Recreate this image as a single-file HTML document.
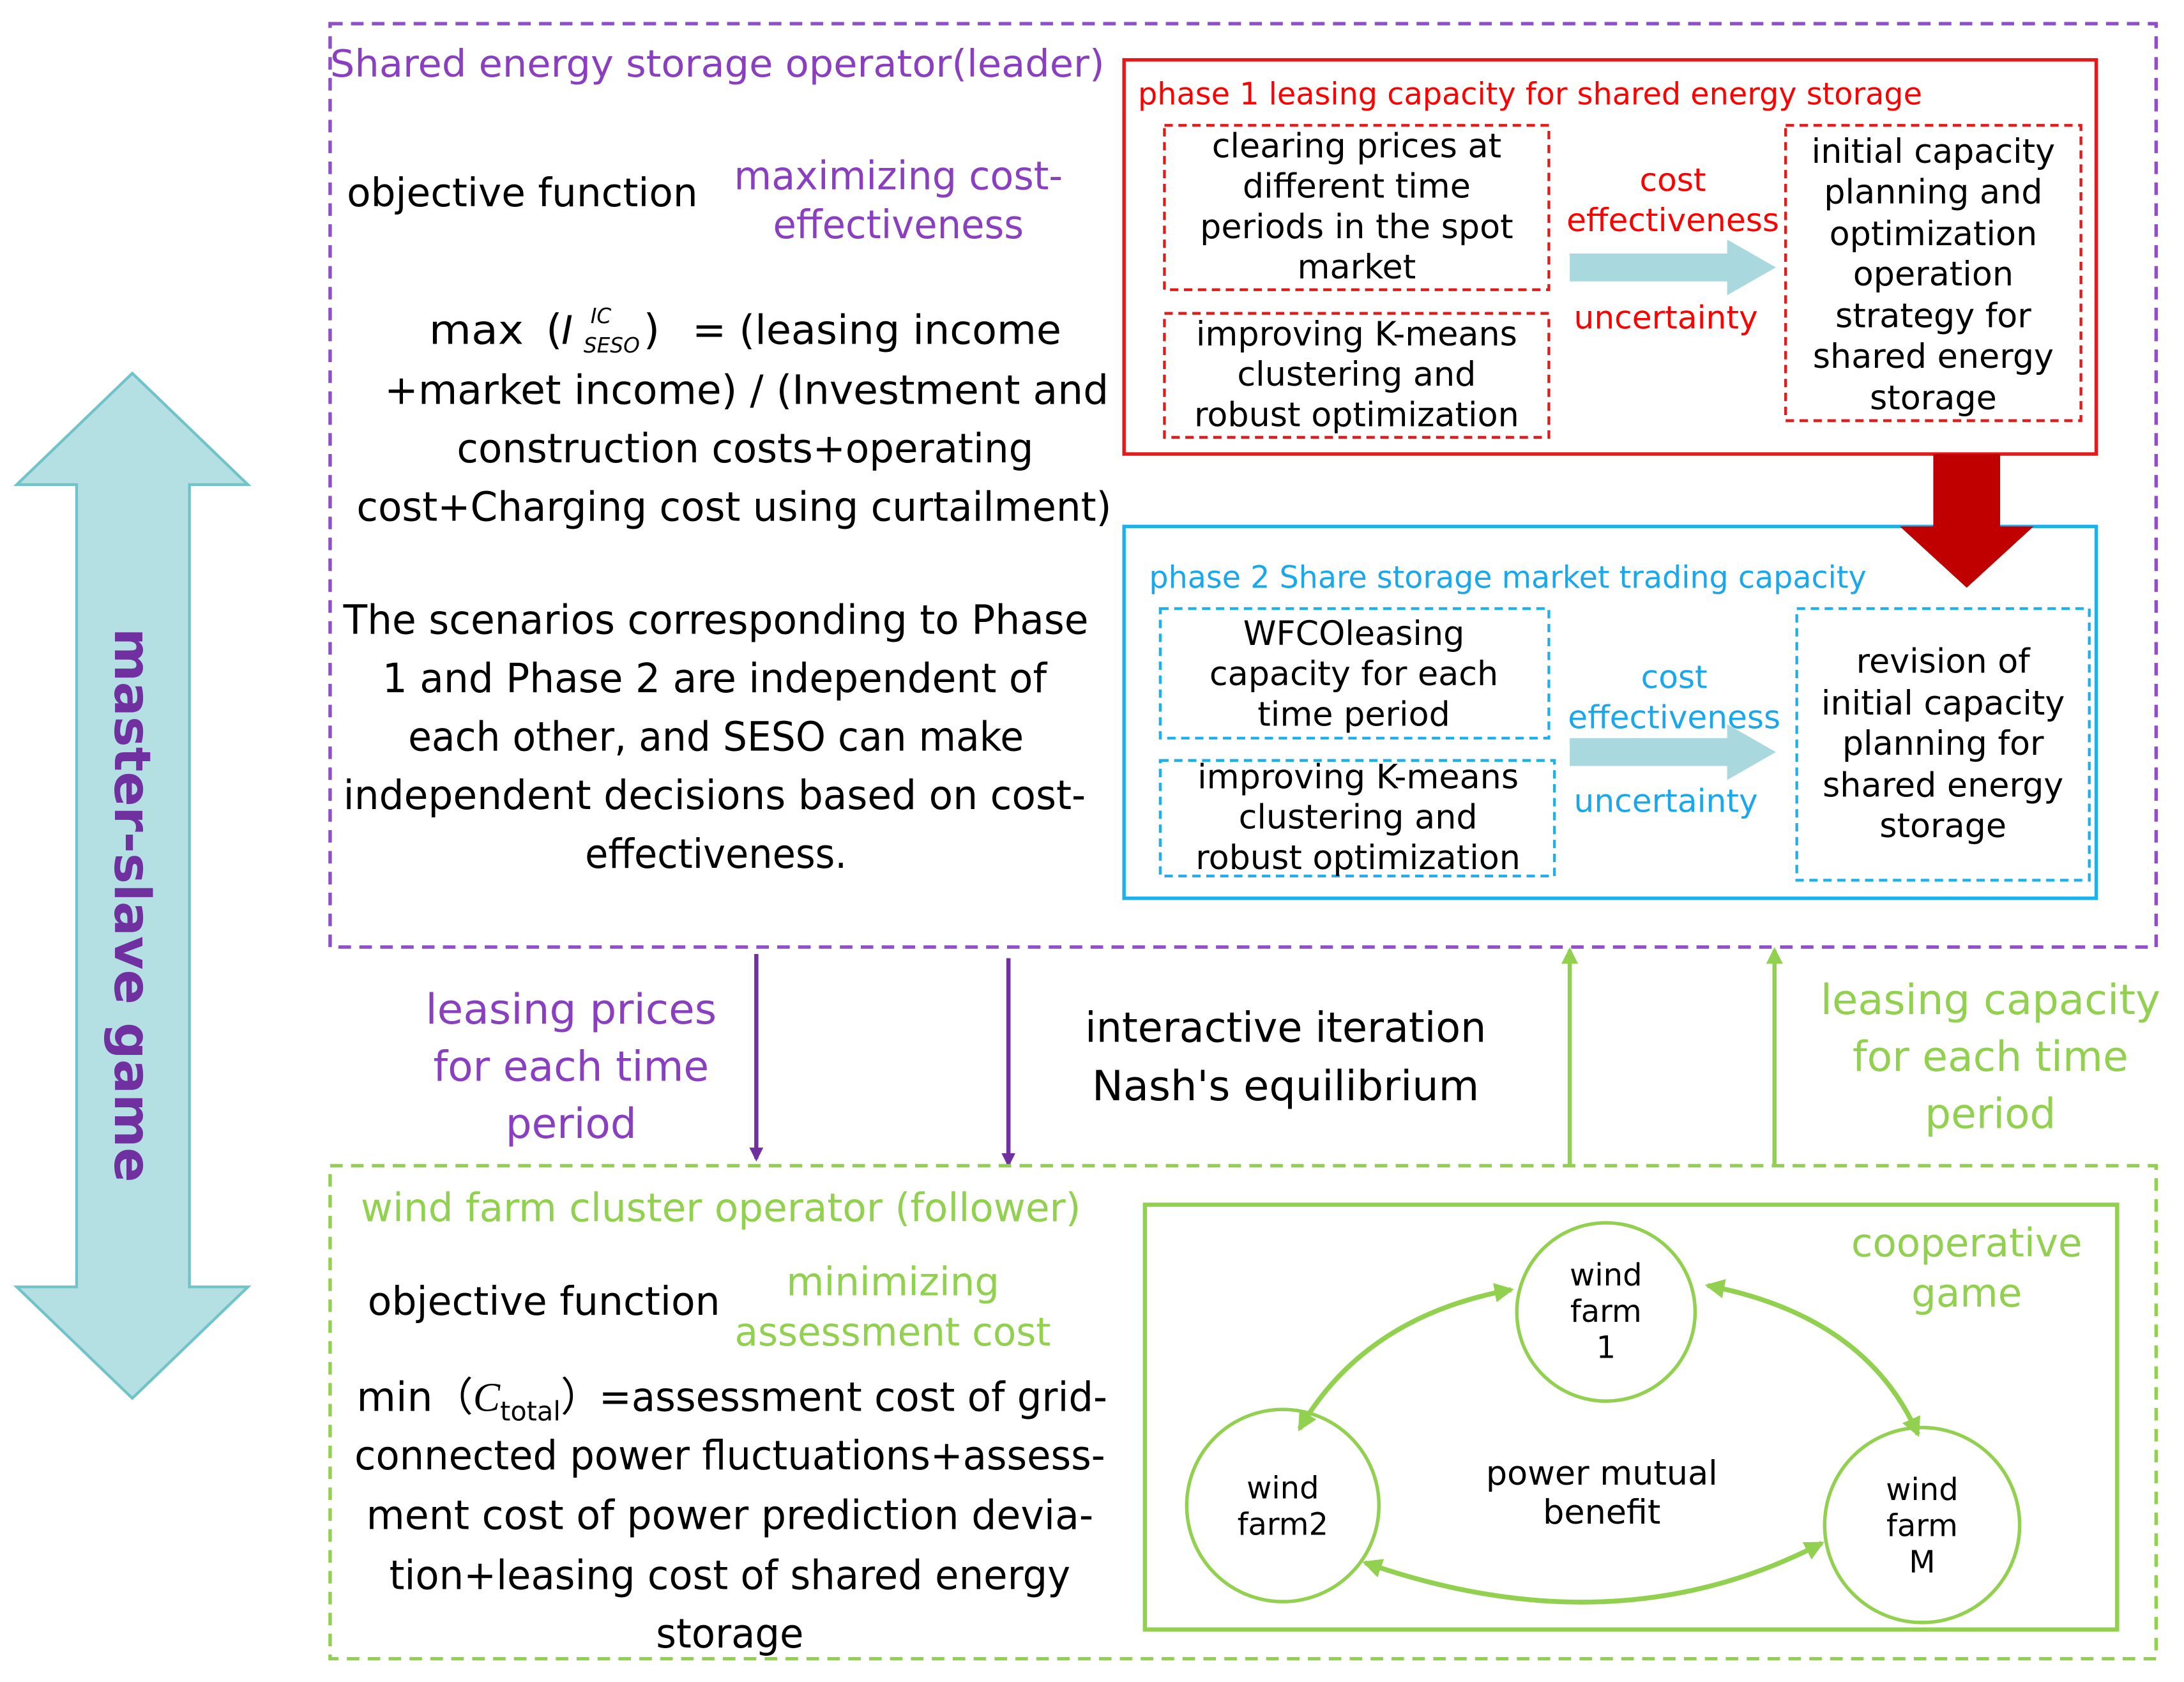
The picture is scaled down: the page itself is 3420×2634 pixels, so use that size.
<!DOCTYPE html>
<html><head><meta charset="utf-8"><style>
html,body{margin:0;padding:0;background:#fff;}
svg{display:block;}
text{font-family:"DejaVu Sans","Liberation Sans",sans-serif;}
</style></head><body>
<svg width="3420" height="2634" viewBox="0 0 1568 1207.7" preserveAspectRatio="none" xmlns="http://www.w3.org/2000/svg">
<defs>
<marker id="pa" markerWidth="10" markerHeight="10" refX="8" refY="5" orient="auto" markerUnits="userSpaceOnUse"><path d="M0,0 L10,5 L0,10 z" fill="#7030a0"/></marker>
<marker id="ga" markerWidth="12" markerHeight="12" refX="10" refY="6" orient="auto" markerUnits="userSpaceOnUse"><path d="M0,0 L12,6 L0,12 z" fill="#92d050"/></marker>
<marker id="gs" markerWidth="14" markerHeight="14" refX="12" refY="7" orient="auto-start-reverse" markerUnits="userSpaceOnUse"><path d="M0,0 L14,7 L0,14 z" fill="#92d050"/></marker>
</defs>
<rect width="1568" height="1207.7" fill="#fff"/>
<path d="M95,268 L178,348 L136,348 L136,924 L178,924 L95,1004 L12,924 L55,924 L55,348 L12,348 Z" fill="#b4dfe3" stroke="#6fc3c9" stroke-width="2"/>
<text x="95" y="650" transform="rotate(90 95 650)" text-anchor="middle" dominant-baseline="central" font-size="36" font-weight="bold" fill="#7030a0" textLength="398" lengthAdjust="spacingAndGlyphs">master-slave game</text>

<rect x="237" y="17" width="1311" height="663" fill="none" stroke="#8e4fc8" stroke-width="2.5" stroke-dasharray="9,6"/>
<text x="237" y="55" font-size="27" fill="#8a3fc0" textLength="556" lengthAdjust="spacingAndGlyphs">Shared energy storage operator(leader)</text>
<text x="249" y="148" font-size="28" fill="#000" textLength="252" lengthAdjust="spacingAndGlyphs">objective function</text>
<text x="645" y="136" font-size="28" fill="#8a3fc0" text-anchor="middle" textLength="236" lengthAdjust="spacingAndGlyphs">maximizing cost-</text>
<text x="645" y="171" font-size="28" fill="#8a3fc0" text-anchor="middle" textLength="180" lengthAdjust="spacingAndGlyphs">effectiveness</text>
<text x="308" y="247" font-size="29" fill="#000" textLength="68" lengthAdjust="spacingAndGlyphs">max</text>
<text x="392" y="247" font-size="30" fill="#000">(</text>
<text x="403" y="247" font-size="28" fill="#000" font-family="Liberation Serif" font-style="italic">I</text>
<text x="424" y="232" font-size="15" fill="#000" font-family="Liberation Serif" font-style="italic">IC</text>
<text x="419" y="253" font-size="15" fill="#000" font-family="Liberation Serif" font-style="italic">SESO</text>
<text x="462" y="247" font-size="30" fill="#000">)</text>
<text x="497" y="247" font-size="29" fill="#000" textLength="265" lengthAdjust="spacingAndGlyphs">=  (leasing income</text>
<text x="536" y="290" font-size="29" fill="#000" text-anchor="middle" textLength="520" lengthAdjust="spacingAndGlyphs">+market income) / (Investment and</text>
<text x="535" y="332" font-size="29" fill="#000" text-anchor="middle" textLength="414" lengthAdjust="spacingAndGlyphs">construction costs+operating</text>
<text x="527" y="374" font-size="29" fill="#000" text-anchor="middle" textLength="542" lengthAdjust="spacingAndGlyphs">cost+Charging cost using curtailment)</text>
<g font-size="29" fill="#000" text-anchor="middle">
<text x="514" y="455" textLength="535" lengthAdjust="spacingAndGlyphs">The scenarios corresponding to Phase</text>
<text x="513" y="497" textLength="477" lengthAdjust="spacingAndGlyphs">1 and Phase 2 are independent of</text>
<text x="514" y="539" textLength="442" lengthAdjust="spacingAndGlyphs">each other, and SESO can make</text>
<text x="513" y="581" textLength="533" lengthAdjust="spacingAndGlyphs">independent decisions based on cost-</text>
<text x="514" y="623" textLength="188" lengthAdjust="spacingAndGlyphs">effectiveness.</text>
</g>

<rect x="807" y="43" width="698" height="283" fill="none" stroke="#e31a1a" stroke-width="2.5"/>
<text x="817" y="75" font-size="22" fill="#f00" textLength="563" lengthAdjust="spacingAndGlyphs">phase 1  leasing capacity for shared energy storage</text>
<g fill="none" stroke="#e31a1a" stroke-width="2" stroke-dasharray="6,4">
<rect x="836" y="90" width="276" height="118"/>
<rect x="836" y="225" width="276" height="89"/>
<rect x="1282" y="90" width="212" height="212"/>
</g>
<g font-size="24" fill="#000" text-anchor="middle">
<text x="974" y="113">clearing prices at</text>
<text x="974" y="142">different time</text>
<text x="974" y="171">periods in the spot</text>
<text x="974" y="200">market</text>
<text x="974" y="248">improving K-means</text>
<text x="974" y="277">clustering and</text>
<text x="974" y="306">robust optimization</text>
<text x="1388" y="117">initial capacity</text>
<text x="1388" y="146">planning and</text>
<text x="1388" y="176">optimization</text>
<text x="1388" y="205">operation</text>
<text x="1388" y="235">strategy for</text>
<text x="1388" y="264">shared energy</text>
<text x="1388" y="294">storage</text>
</g>
<g font-size="23" fill="#f00" text-anchor="middle">
<text x="1201" y="137">cost</text>
<text x="1201" y="166">effectiveness</text>
<text x="1196" y="236">uncertainty</text>
</g>
<path d="M1127,182 L1240,182 L1240,172 L1275,192 L1240,212 L1240,202 L1127,202 Z" fill="#a9d9de"/>

<rect x="807" y="378" width="698" height="267" fill="none" stroke="#1fb0ec" stroke-width="2.5"/>
<path d="M1388,326 L1436,326 L1436,378 L1460,378 L1412,422 L1364,378 L1388,378 Z" fill="#c00000"/>
<text x="825" y="422" font-size="22" fill="#1aa7ec" textLength="515" lengthAdjust="spacingAndGlyphs">phase 2  Share storage market trading capacity</text>
<g fill="none" stroke="#1fb0ec" stroke-width="2" stroke-dasharray="6,4">
<rect x="833" y="437" width="279" height="93"/>
<rect x="833" y="546" width="283" height="83"/>
<rect x="1290" y="437" width="210" height="195"/>
</g>
<g font-size="24" fill="#000" text-anchor="middle">
<text x="972" y="463">WFCOleasing</text>
<text x="972" y="492">capacity for each</text>
<text x="972" y="521">time period</text>
<text x="975" y="566">improving K-means</text>
<text x="975" y="595">clustering and</text>
<text x="975" y="624">robust optimization</text>
<text x="1395" y="483">revision of</text>
<text x="1395" y="513">initial capacity</text>
<text x="1395" y="542">planning for</text>
<text x="1395" y="572">shared energy</text>
<text x="1395" y="601">storage</text>
</g>
<g font-size="23" fill="#1aa7ec" text-anchor="middle">
<text x="1202" y="494">cost</text>
<text x="1202" y="523">effectiveness</text>
<text x="1196" y="583">uncertainty</text>
</g>
<path d="M1127,530 L1240,530 L1240,520 L1275,540 L1240,560 L1240,550 L1127,550 Z" fill="#a9d9de"/>

<line x1="543" y1="685" x2="543" y2="832" stroke="#7030a0" stroke-width="3" marker-end="url(#pa)"/>
<line x1="724" y1="688" x2="724" y2="836" stroke="#7030a0" stroke-width="3" marker-end="url(#pa)"/>
<line x1="1127" y1="836" x2="1127" y2="682" stroke="#92d050" stroke-width="3" marker-end="url(#ga)"/>
<line x1="1274" y1="836" x2="1274" y2="682" stroke="#92d050" stroke-width="3" marker-end="url(#ga)"/>
<g font-size="30" fill="#8a3fc0" text-anchor="middle">
<text x="410" y="735" textLength="209" lengthAdjust="spacingAndGlyphs">leasing prices</text>
<text x="410" y="776" textLength="198" lengthAdjust="spacingAndGlyphs">for each time</text>
<text x="410" y="817" textLength="94" lengthAdjust="spacingAndGlyphs">period</text>
</g>
<g font-size="30" fill="#000" text-anchor="middle">
<text x="923" y="748" textLength="288" lengthAdjust="spacingAndGlyphs">interactive iteration</text>
<text x="923" y="790" textLength="278" lengthAdjust="spacingAndGlyphs">Nash's equilibrium</text>
</g>
<g font-size="30" fill="#92d050" text-anchor="middle">
<text x="1429" y="728" textLength="244" lengthAdjust="spacingAndGlyphs">leasing capacity</text>
<text x="1429" y="769" textLength="198" lengthAdjust="spacingAndGlyphs">for each time</text>
<text x="1429" y="810" textLength="94" lengthAdjust="spacingAndGlyphs">period</text>
</g>

<rect x="237" y="837" width="1311" height="354" fill="none" stroke="#92d050" stroke-width="2.5" stroke-dasharray="9,6"/>
<text x="259" y="877" font-size="28" fill="#92d050" textLength="517" lengthAdjust="spacingAndGlyphs">wind farm cluster operator (follower)</text>
<text x="264" y="944" font-size="28" fill="#000" textLength="253" lengthAdjust="spacingAndGlyphs">objective function</text>
<text x="641" y="930" font-size="28" fill="#92d050" text-anchor="middle" textLength="153" lengthAdjust="spacingAndGlyphs">minimizing</text>
<text x="641" y="966" font-size="28" fill="#92d050" text-anchor="middle" textLength="227" lengthAdjust="spacingAndGlyphs">assessment cost</text>
<text x="256" y="1013" font-size="29" fill="#000">min（<tspan font-style="italic" font-family="Liberation Serif">C</tspan><tspan font-size="19" dy="7">total</tspan><tspan dy="-7">）</tspan></text>
<text x="430" y="1013" font-size="29" fill="#000" textLength="365" lengthAdjust="spacingAndGlyphs">=assessment cost of grid-</text>
<g font-size="29" fill="#000" text-anchor="middle">
<text x="524" y="1055" textLength="539" lengthAdjust="spacingAndGlyphs">connected power fluctuations+assess-</text>
<text x="524" y="1098" textLength="522" lengthAdjust="spacingAndGlyphs">ment cost of power prediction devia-</text>
<text x="524" y="1141" textLength="489" lengthAdjust="spacingAndGlyphs">tion+leasing cost of shared energy</text>
<text x="524" y="1183" textLength="106" lengthAdjust="spacingAndGlyphs">storage</text>
</g>
<rect x="822" y="865" width="698" height="305" fill="none" stroke="#92d050" stroke-width="3"/>
<g fill="#fff" stroke="#92d050" stroke-width="2.5">
<circle cx="1153" cy="942" r="64"/>
<circle cx="921" cy="1081" r="69"/>
<circle cx="1380" cy="1095" r="70"/>
</g>
<g font-size="22" fill="#000" text-anchor="middle">
<text x="1153" y="923">wind</text>
<text x="1153" y="949">farm</text>
<text x="1153" y="975">1</text>
<text x="921" y="1076">wind</text>
<text x="921" y="1102">farm2</text>
<text x="1380" y="1077">wind</text>
<text x="1380" y="1103">farm</text>
<text x="1380" y="1129">M</text>
</g>
<g fill="none" stroke="#92d050" stroke-width="3.5">
<path d="M933,1026 Q980,945 1085,926" marker-start="url(#gs)" marker-end="url(#gs)"/>
<path d="M1226,923 Q1340,945 1377,1030" marker-start="url(#gs)" marker-end="url(#gs)"/>
<path d="M980,1122 Q1160,1185 1308,1108" marker-start="url(#gs)" marker-end="url(#gs)"/>
</g>
<g font-size="28" fill="#92d050" text-anchor="middle">
<text x="1412" y="902">cooperative</text>
<text x="1412" y="938">game</text>
</g>
<g font-size="24" fill="#000" text-anchor="middle">
<text x="1150" y="1066">power mutual</text>
<text x="1150" y="1094">benefit</text>
</g>
</svg>
</body></html>
